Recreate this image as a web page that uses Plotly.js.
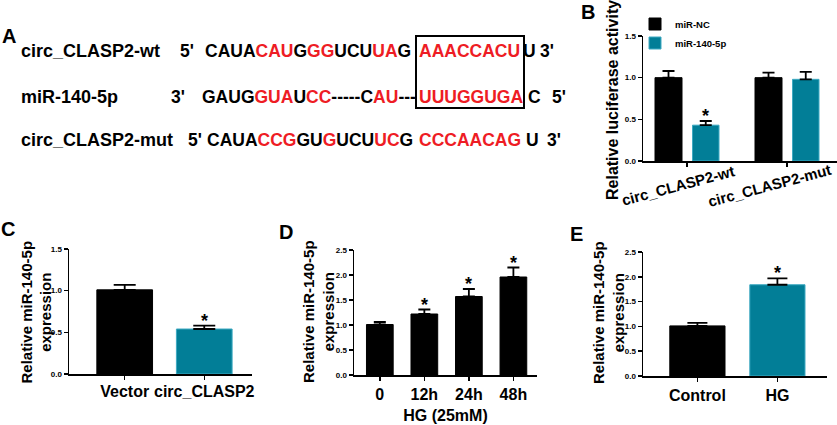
<!DOCTYPE html>
<html>
<head>
<meta charset="utf-8">
<script src="https://cdn.plot.ly/plotly-3.0.1.min.js"></script>
<style>html,body{margin:0;padding:0;background:#fff;}#chart{width:837px;height:425px;}</style>
</head>
<body>
<div id="chart"></div>
<script>
// ---------- DATA ----------
// Panel A: sequence alignment (segments: [text, isRed])
const rowLabels = ['circ_CLASP2-wt', 'miR-140-5p', 'circ_CLASP2-mut'];
const rowEnds5 = ["5'", "3'", "5'"];
const rowEnds3 = ["3'", "5'", "3'"];
const seqWt = [['CAUA',0],['CAU',1],['G',0],['GG',1],['UCU',0],['UA',1],['G',0]];
const seqMir = [['GAUG',0],['GUA',1],['U',0],['CC',1],['-----C',0],['AU',1],['---',0]];
const seqMut = [['CAUA',0],['CCG',1],['GU',0],['G',1],['UCU',0],['UC',1],['G',0]];
const seedSeq = ['AAACCACU', 'UUUGGUGA', 'CCCAACAG'];
const tailSeq = ['U', 'C', 'U'];

// Panel B: relative luciferase activity
const bCategories = ['circ_CLASP2-wt', 'circ_CLASP2-mut'];
const bSeries = ['miR-NC', 'miR-140-5p'];
const bNC = [1.00, 1.00];
const bNCerr = [0.08, 0.06];
const bMiR = [0.43, 0.98];
const bMiRerr = [0.05, 0.09];
const bMiRsig = ['*', ''];

// Panel C
const cCategories = ['Vector', 'circ_CLASP2'];
const cValues = [1.01, 0.54];
const cErr = [0.06, 0.04];
const cSig = ['', '*'];

// Panel D
const dCategories = ['0', '12h', '24h', '48h'];
const dValues = [1.01, 1.22, 1.57, 1.96];
const dErr = [0.05, 0.09, 0.15, 0.19];
const dSig = ['', '*', '*', '*'];
const dXTitle = 'HG (25mM)';

// Panel E
const eCategories = ['Control', 'HG'];
const eValues = [1.01, 1.84];
const eErr = [0.06, 0.13];
const eSig = ['', '*'];

const yTitleB = 'Relative luciferase activity';
const yTitleExpr = 'Relative miR-140-5p<br>expression';

// ---------- STYLE ----------
const W = 837, H = 425;
const FONT = 'Arial, "Liberation Sans", sans-serif';
const BLACK = '#000000', TEAL = '#027e97', TEAL_EDGE = '#3eaac2', RED = '#ee1c24';
const px = x => x / W;
const py = y => 1 - y / H;
const zeros = a => a.map(() => 0);

function errY(arr, w) {
  return {type: 'data', array: arr, arrayminus: zeros(arr), symmetric: false, color: BLACK, thickness: 1.8, width: w};
}

const traces = [];
// B
traces.push({type: 'bar', name: bSeries[0], x: bCategories, y: bNC, xaxis: 'x', yaxis: 'y',
  width: 0.27, offset: -0.32, marker: {color: BLACK, line: {color: BLACK, width: 1}},
  error_y: errY(bNCerr, 6), showlegend: true, hoverinfo: 'skip'});
traces.push({type: 'bar', name: bSeries[1], x: bCategories, y: bMiR, xaxis: 'x', yaxis: 'y',
  width: 0.265, offset: 0.055, marker: {color: TEAL, line: {color: TEAL_EDGE, width: 1}},
  error_y: errY(bMiRerr, 6), showlegend: true, hoverinfo: 'skip'});
// C
traces.push({type: 'bar', x: cCategories, y: cValues, xaxis: 'x2', yaxis: 'y2', width: 0.70,
  marker: {color: [BLACK, TEAL], line: {color: [BLACK, TEAL_EDGE], width: 1}},
  error_y: errY(cErr, 11), showlegend: false, hoverinfo: 'skip'});
// D
traces.push({type: 'bar', x: dCategories, y: dValues, xaxis: 'x3', yaxis: 'y3', width: 0.60,
  marker: {color: BLACK, line: {color: BLACK, width: 1}},
  error_y: errY(dErr, 6), showlegend: false, hoverinfo: 'skip'});
// E
traces.push({type: 'bar', x: eCategories, y: eValues, xaxis: 'x4', yaxis: 'y4', width: 0.69,
  marker: {color: [BLACK, TEAL], line: {color: [BLACK, TEAL_EDGE], width: 1}},
  error_y: errY(eErr, 10), showlegend: false, hoverinfo: 'skip'});

function yAx(domTop, domBot, top, anchor) {
  return {domain: [py(domBot), py(domTop)], range: [0, top], dtick: 0.5, tickformat: '.1f',
    showline: true, linecolor: BLACK, linewidth: 1.5, ticks: 'outside', ticklen: 4, tickwidth: 1.5,
    tickcolor: BLACK, showgrid: false, zeroline: false, anchor: anchor, fixedrange: true,
    tickfont: {family: FONT, size: 8, color: BLACK, weight: 'bold'}};
}
function xAx(left, right, range, anchor, showLabels) {
  return {domain: [px(left), px(right)], type: 'category', range: range, anchor: anchor,
    showline: true, linecolor: BLACK, linewidth: 1.5, ticks: 'outside', ticklen: 4, tickwidth: 1.5,
    tickcolor: BLACK, showgrid: false, zeroline: false, showticklabels: showLabels, fixedrange: true,
    tickfont: {family: FONT, size: 16, color: BLACK, weight: 'bold'}};
}

const layout = {
  width: W, height: H, margin: {l: 0, r: 0, t: 0, b: 0},
  paper_bgcolor: '#fff', plot_bgcolor: 'rgba(0,0,0,0)',
  barmode: 'overlay', font: {family: FONT, color: BLACK},
  xaxis: xAx(643, 837, [-0.44, 1.5], 'y', false),
  yaxis: yAx(36, 161, 1.5, 'x'),
  xaxis2: xAx(69, 252, [-0.70, 1.60], 'y2', true),
  yaxis2: yAx(249, 374, 1.5, 'x2'),
  xaxis3: xAx(354, 537, [-0.58, 3.53], 'y3', true),
  yaxis3: yAx(250, 375, 2.5, 'x3'),
  xaxis4: xAx(643, 827, [-0.68, 1.62], 'y4', true),
  yaxis4: yAx(252, 376, 2.5, 'x4'),
  legend: {x: px(635), y: py(9.5), xanchor: 'left', yanchor: 'top', bgcolor: 'rgba(0,0,0,0)',
    font: {family: FONT, size: 9.5, color: BLACK, weight: 'bold'}, tracegroupgap: 0, itemwidth: 30},
  shapes: [{type: 'rect', xref: 'paper', yref: 'paper', x0: px(416), x1: px(524), y0: py(108), y1: py(36),
    line: {color: BLACK, width: 2}}],
  annotations: []
};
layout.xaxis2.ticklabelstandoff = -2;
layout.xaxis3.title = {text: dXTitle, font: {family: FONT, size: 16, color: BLACK, weight: 'bold'}, standoff: 8};

const ann = layout.annotations;
const bold = (s, c) => ({family: FONT, size: s, color: c || BLACK, weight: 'bold'});
function txt(x, y, text, opts) {
  ann.push(Object.assign({xref: 'paper', yref: 'paper', x: px(x), y: py(y), text: text, showarrow: false,
    xanchor: 'left', yanchor: 'middle', font: bold(17.5)}, opts || {}));
}
function colored(segs) {
  return segs.map(s => s[1] ? '<span style="color:' + RED + '">' + s[0] + '</span>' : s[0]).join('');
}

// Panel letters
txt(9, 36, 'A', {xanchor: 'center', font: bold(20)});
txt(588, 12, 'B', {xanchor: 'center', font: bold(20)});
txt(8, 229, 'C', {xanchor: 'center', font: bold(20)});
txt(286, 232, 'D', {xanchor: 'center', font: bold(20)});
txt(576, 234, 'E', {xanchor: 'center', font: bold(20)});

// Panel A rows
const rowY = [51, 97, 140];
const end5X = [180, 171, 188];
const seqX = [205, 202, 207];
const tailX = [523, 528, 526];
const end3X = [540, 552, 547];
const seqs = [seqWt, seqMir, seqMut];
for (let i = 0; i < 3; i++) {
  txt(19, rowY[i], rowLabels[i], {font: bold(18)});
  txt(end5X[i] - 2, rowY[i], rowEnds5[i]);
  txt(seqX[i] - 2, rowY[i], colored(seqs[i]));
  txt(417, rowY[i], seedSeq[i], {font: bold(17.5, RED)});
  txt(tailX[i] - 2, rowY[i], tailSeq[i]);
  txt(end3X[i] - 2, rowY[i], rowEnds3[i]);
}

// Y titles
txt(612, 100, yTitleB, {xanchor: 'center', textangle: -90, font: bold(16)});
txt(35.5, 312, yTitleExpr, {xanchor: 'center', textangle: -90, font: bold(15)});
txt(318, 312, yTitleExpr, {xanchor: 'center', textangle: -90, font: bold(15)});
txt(608, 313, yTitleExpr, {xanchor: 'center', textangle: -90, font: bold(15)});

// B category labels (rotated)
const bLabelShift = [-9, -18];
bCategories.forEach((c, i) => {
  ann.push({xref: 'x', yref: 'paper', x: c, y: py(185), xshift: bLabelShift[i], text: c, textangle: -15,
    showarrow: false, xanchor: 'center', yanchor: 'middle', font: bold(15)});
});

// Significance stars
function stars(cats, vals, errs, sig, xr, yr, xoff) {
  cats.forEach((c, i) => {
    if (!sig[i]) return;
    ann.push({xref: xr, yref: yr, x: c, y: vals[i] + errs[i], text: sig[i], showarrow: false,
      xanchor: 'center', yanchor: 'bottom', yshift: -7, xshift: xoff || 0, font: bold(18)});
  });
}
stars(bCategories, bMiR, bMiRerr, bMiRsig, 'x', 'y', 18.6);
stars(cCategories, cValues, cErr, cSig, 'x2', 'y2');
stars(dCategories, dValues, dErr, dSig, 'x3', 'y3');
stars(eCategories, eValues, eErr, eSig, 'x4', 'y4');

Plotly.newPlot('chart', traces, layout, {staticPlot: true, displayModeBar: false});
</script>
</body>
</html>
